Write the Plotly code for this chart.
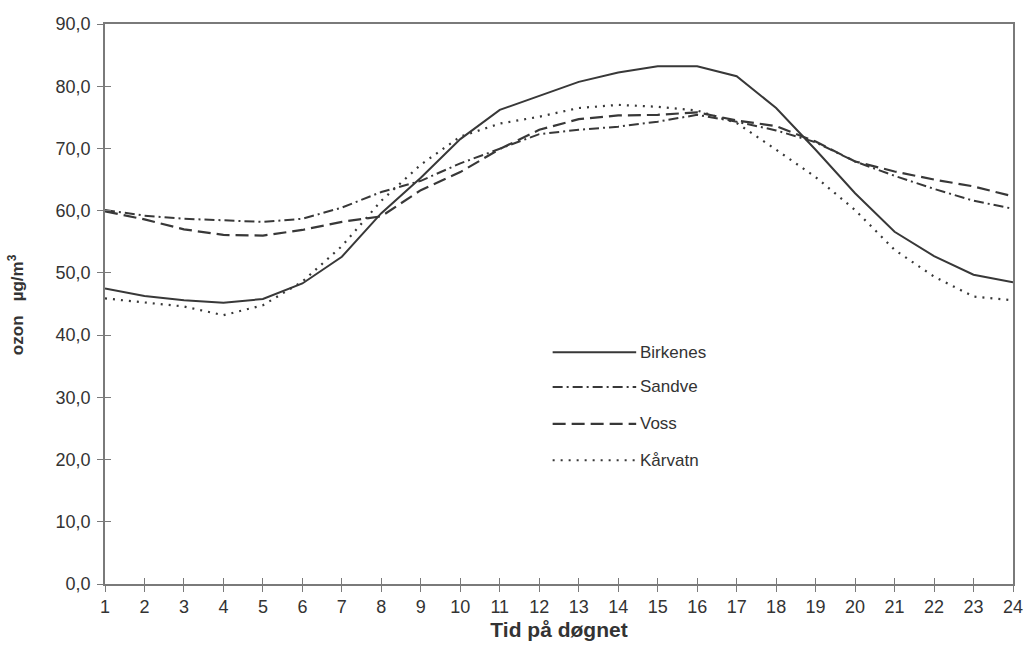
import plotly.graph_objects as go

# Hour of day (1-24) and mean ozone concentration per station (µg/m3)
hours = list(range(1, 25))

birkenes = [47.5, 46.3, 45.6, 45.2, 45.8, 48.3, 52.6, 59.6, 65.3, 71.5, 76.2, 78.5, 80.7, 82.2, 83.2, 83.2, 81.6, 76.5, 69.8, 62.8, 56.6, 52.7, 49.7, 48.5]
sandve = [60.1, 59.2, 58.7, 58.5, 58.2, 58.7, 60.5, 63.0, 64.8, 67.6, 70.0, 72.3, 73.0, 73.5, 74.3, 75.4, 74.3, 72.9, 71.0, 67.9, 65.6, 63.5, 61.6, 60.3]
voss = [59.9, 58.6, 57.0, 56.1, 56.0, 56.9, 58.2, 59.1, 63.3, 66.2, 69.9, 73.0, 74.7, 75.3, 75.4, 75.8, 74.5, 73.6, 71.1, 67.9, 66.3, 65.0, 63.9, 62.3]
karvatn = [45.9, 45.3, 44.6, 43.2, 44.8, 48.6, 54.3, 61.6, 67.4, 71.9, 74.0, 75.1, 76.5, 77.0, 76.7, 76.1, 74.1, 69.8, 65.4, 60.1, 53.7, 49.4, 46.2, 45.6]

stations = ["Birkenes", "Sandve", "Voss", "Kårvatn"]
series = [birkenes, sandve, voss, karvatn]
dashes = ["solid", "10px,4px,2px,4px", "13px,6px", "2px,6px"]
widths = [2.0, 2.0, 2.2, 2.2]

LINE = "#383838"
AXIS = "#7a7a7a"
TEXT = "#333333"
FONT = "Liberation Sans, Arial, sans-serif"

fig = go.Figure()
for name, vals, dash, w in zip(stations, series, dashes, widths):
    fig.add_trace(go.Scatter(
        x=hours, y=vals, mode="lines", name=name,
        line=dict(color=LINE, width=w, dash=dash),
        showlegend=False,
    ))

# Invisible trace to carry the inner half of the cross-shaped ticks
fig.add_trace(go.Scatter(x=[hours[0]], y=[0], xaxis="x2", yaxis="y2",
                         mode="markers", marker=dict(opacity=0), showlegend=False,
                         hoverinfo="skip"))

# Legend drawn inside the plot with long line samples
leg_y = [0.414, 0.352, 0.286, 0.221]
shapes = []
annotations = []
for name, dash, w, yy in zip(stations, dashes, widths, leg_y):
    shapes.append(dict(type="line", xref="paper", yref="paper",
                       x0=0.493, x1=0.585, y0=yy, y1=yy,
                       line=dict(color=LINE, width=w, dash=dash)))
    annotations.append(dict(xref="paper", yref="paper", x=0.587, y=yy,
                            text=name, showarrow=False, xanchor="left",
                            yanchor="middle",
                            font=dict(family=FONT, size=17, color=TEXT)))

annotations.append(dict(xref="paper", yref="paper", x=-0.098, y=0.498,
                        text="<b>ozon&nbsp;&nbsp;&nbsp;µg/m<sup>3</sup></b>",
                        textangle=-90,
                        showarrow=False, xanchor="center", yanchor="middle",
                        font=dict(family=FONT, size=17, color=TEXT)))

axis_common = dict(showgrid=False, zeroline=False, showline=True,
                   linecolor=AXIS, linewidth=1.5, tickcolor=AXIS,
                   tickwidth=1.2, tickfont=dict(family=FONT, size=18, color=TEXT))

fig.update_layout(
    width=1035, height=658,
    margin=dict(l=105, r=14, t=24, b=74),
    paper_bgcolor="white", plot_bgcolor="white",
    separators=",.",
    font=dict(family=FONT, size=18, color=TEXT),
    shapes=shapes, annotations=annotations,
    xaxis=dict(range=[1, 24], tickmode="array", tickvals=hours,
               ticktext=[str(h) for h in hours], ticks="outside", ticklen=6,
               mirror=True,
               title=dict(text="<b>Tid på døgnet</b>", standoff=6,
                          font=dict(family=FONT, size=21, color=TEXT)),
               **axis_common),
    yaxis=dict(range=[0, 90], dtick=10, tickformat=".1f", ticks="outside",
               ticklen=6, mirror=True, ticklabelstandoff=3, **axis_common),
    xaxis2=dict(range=[1, 24], overlaying="x", tickvals=hours, ticks="inside",
                ticklen=6, showticklabels=False, showgrid=False,
                zeroline=False, showline=False, tickcolor=AXIS, tickwidth=1.2,
                anchor="y2", side="bottom"),
    yaxis2=dict(range=[0, 90], overlaying="y", dtick=10, ticks="inside",
                ticklen=6, showticklabels=False, showgrid=False,
                zeroline=False, showline=False, tickcolor=AXIS, tickwidth=1.2,
                anchor="x2", side="left"),
)

fig.write_html("out.html")
